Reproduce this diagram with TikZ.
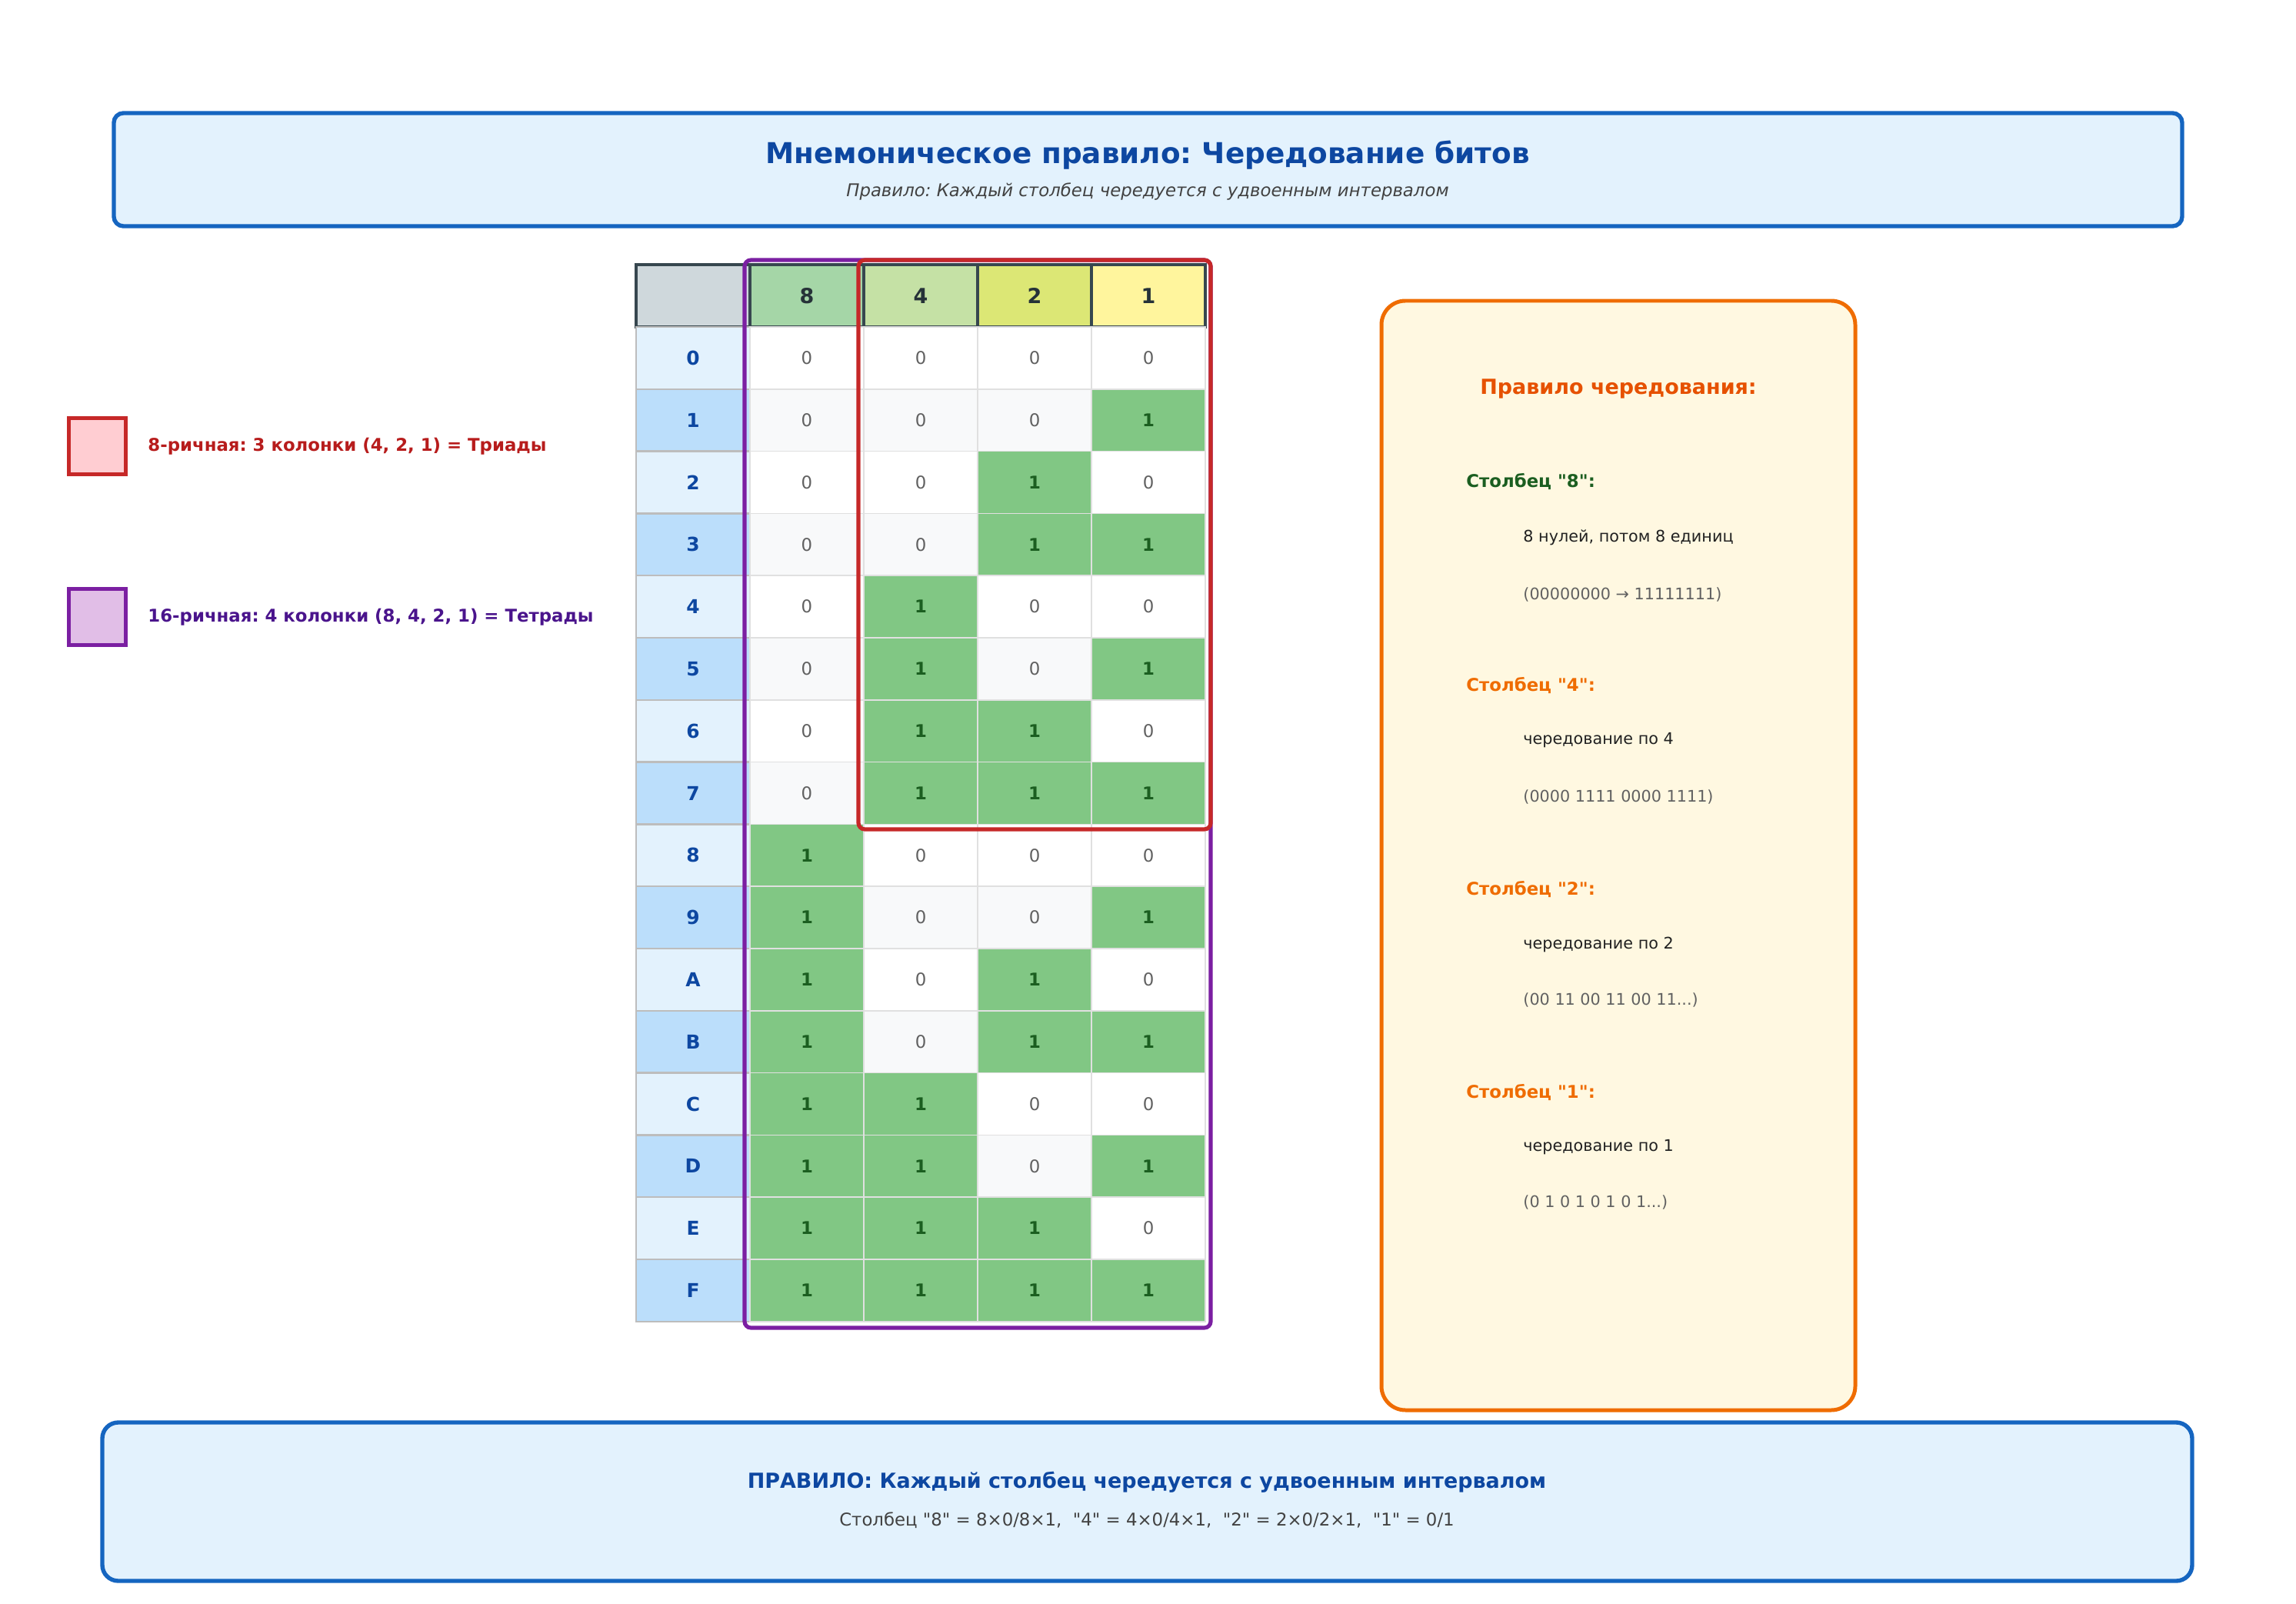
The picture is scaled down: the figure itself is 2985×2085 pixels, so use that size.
\documentclass[tikz,border=0pt]{standalone}
\usepackage{fontspec}
\setmainfont{DejaVu Sans}[Ligatures=TeXOff]
\frenchspacing
\definecolor{titleblue}{HTML}{0D47A1}
\definecolor{boxblue}{HTML}{1565C0}
\definecolor{boxfill}{HTML}{E3F2FD}
\definecolor{labfillB}{HTML}{BBDEFB}
\definecolor{labline}{HTML}{BDBDBD}
\definecolor{headline}{HTML}{37474F}
\definecolor{headtext}{HTML}{263238}
\definecolor{headcorner}{HTML}{CFD8DC}
\definecolor{headA}{HTML}{A5D6A7}
\definecolor{headB}{HTML}{C5E1A5}
\definecolor{headC}{HTML}{DCE775}
\definecolor{headD}{HTML}{FFF59D}
\definecolor{onefill}{HTML}{81C784}
\definecolor{onetext}{HTML}{1B5E20}
\definecolor{zerotext}{HTML}{616161}
\definecolor{zerofill}{HTML}{F8F9FA}
\definecolor{cellline}{HTML}{E0E0E0}
\definecolor{octred}{HTML}{C62828}
\definecolor{octfill}{HTML}{FFCDD2}
\definecolor{octtext}{HTML}{B71C1C}
\definecolor{hexpurple}{HTML}{7B1FA2}
\definecolor{hexfill}{HTML}{E1BEE7}
\definecolor{hextext}{HTML}{4A148C}
\definecolor{ruleorange}{HTML}{EF6C00}
\definecolor{rulefill}{HTML}{FFF8E1}
\definecolor{ruletitle}{HTML}{E65100}
\definecolor{darktext}{HTML}{212121}
\definecolor{subgray}{HTML}{424242}

\begin{document}
\begin{tikzpicture}[x=0.016933cm, y=-0.016933cm,
  cell/.style={draw=cellline, line width=0.7pt, minimum width=2.506cm, minimum height=1.368cm, inner sep=0pt, font=\fontsize{11}{13}\selectfont},
  bit1/.style={cell, fill=onefill, text=onetext, font=\bfseries\fontsize{11}{13}\selectfont},
  bit0/.style={cell, fill=white, text=zerotext},
  bit0s/.style={cell, fill=zerofill, text=zerotext},
  lab/.style={cell, draw=labline, line width=1.2pt, text=titleblue, font=\bfseries\fontsize{12}{14}\selectfont},
  labA/.style={lab, fill=boxfill},
  labB/.style={lab, fill=labfillB},
  head/.style={cell, draw=headline, line width=1.6pt, text=headtext, font=\bfseries\fontsize{13}{15}\selectfont},
  legendtext/.style={anchor=west, inner sep=0pt, font=\bfseries\fontsize{11}{13}\selectfont},
  rulehead/.style={anchor=west, inner sep=0pt, font=\bfseries\fontsize{11}{13}\selectfont},
  ruleline/.style={anchor=west, inner sep=0pt, text=darktext, font=\fontsize{10}{12}\selectfont},
  rulegray/.style={anchor=west, inner sep=0pt, text=zerotext, font=\fontsize{10}{12}\selectfont}]
\useasboundingbox (0,0) rectangle (2985,2085);
\draw[line width=2.6pt, draw=boxblue, fill=boxfill, rounded corners=6pt] (148,147) rectangle (2837,294);
\node[text=titleblue, font=\bfseries\fontsize{18}{22}\selectfont] (title) at (1492,202) {Мнемоническое правило: Чередование битов};
\node[text=subgray, font=\itshape\fontsize{11}{13}\selectfont] (subtitle) at (1492,249) {Правило: Каждый столбец чередуется с удвоенным интервалом};
\node[draw=octred, fill=octfill, line width=2.5pt, minimum width=1.25cm, minimum height=1.25cm, inner sep=0pt] (oct) at (126.5,580) {};
\node[legendtext, text=octtext] (octlab) at (192,580) {8-ричная: 3 колонки (4, 2, 1) = Триады};
\node[draw=hexpurple, fill=hexfill, line width=2.5pt, minimum width=1.25cm, minimum height=1.25cm, inner sep=0pt] (hex) at (126.5,802) {};
\node[legendtext, text=hextext] (hexlab) at (192,802) {16-ричная: 4 колонки (8, 4, 2, 1) = Тетрады};
\node[head, fill=headcorner] (h0) at (901,384.5) {};
\node[head, fill=headA] (h8) at (1049,384.5) {8};
\node[head, fill=headB] (h4) at (1197,384.5) {4};
\node[head, fill=headC] (h2) at (1345,384.5) {2};
\node[head, fill=headD] (h1) at (1493,384.5) {1};
\node[labA] (l0) at (901,465.4) {0};
\node[labB] (l1) at (901,546.2) {1};
\node[labA] (l2) at (901,627.0) {2};
\node[labB] (l3) at (901,707.8) {3};
\node[labA] (l4) at (901,788.6) {4};
\node[labB] (l5) at (901,869.4) {5};
\node[labA] (l6) at (901,950.2) {6};
\node[labB] (l7) at (901,1031.0) {7};
\node[labA] (l8) at (901,1111.8) {8};
\node[labB] (l9) at (901,1192.6) {9};
\node[labA] (l10) at (901,1273.4) {A};
\node[labB] (l11) at (901,1354.2) {B};
\node[labA] (l12) at (901,1435.0) {C};
\node[labB] (l13) at (901,1515.8) {D};
\node[labA] (l14) at (901,1596.6) {E};
\node[labB] (l15) at (901,1677.4) {F};
\node[bit0] (r0b8) at (1049,465.4) {0};
\node[bit0] (r0b4) at (1197,465.4) {0};
\node[bit0] (r0b2) at (1345,465.4) {0};
\node[bit0] (r0b1) at (1493,465.4) {0};
\node[bit0s] (r1b8) at (1049,546.2) {0};
\node[bit0s] (r1b4) at (1197,546.2) {0};
\node[bit0s] (r1b2) at (1345,546.2) {0};
\node[bit1] (r1b1) at (1493,546.2) {1};
\node[bit0] (r2b8) at (1049,627.0) {0};
\node[bit0] (r2b4) at (1197,627.0) {0};
\node[bit1] (r2b2) at (1345,627.0) {1};
\node[bit0] (r2b1) at (1493,627.0) {0};
\node[bit0s] (r3b8) at (1049,707.8) {0};
\node[bit0s] (r3b4) at (1197,707.8) {0};
\node[bit1] (r3b2) at (1345,707.8) {1};
\node[bit1] (r3b1) at (1493,707.8) {1};
\node[bit0] (r4b8) at (1049,788.6) {0};
\node[bit1] (r4b4) at (1197,788.6) {1};
\node[bit0] (r4b2) at (1345,788.6) {0};
\node[bit0] (r4b1) at (1493,788.6) {0};
\node[bit0s] (r5b8) at (1049,869.4) {0};
\node[bit1] (r5b4) at (1197,869.4) {1};
\node[bit0s] (r5b2) at (1345,869.4) {0};
\node[bit1] (r5b1) at (1493,869.4) {1};
\node[bit0] (r6b8) at (1049,950.2) {0};
\node[bit1] (r6b4) at (1197,950.2) {1};
\node[bit1] (r6b2) at (1345,950.2) {1};
\node[bit0] (r6b1) at (1493,950.2) {0};
\node[bit0s] (r7b8) at (1049,1031.0) {0};
\node[bit1] (r7b4) at (1197,1031.0) {1};
\node[bit1] (r7b2) at (1345,1031.0) {1};
\node[bit1] (r7b1) at (1493,1031.0) {1};
\node[bit1] (r8b8) at (1049,1111.8) {1};
\node[bit0] (r8b4) at (1197,1111.8) {0};
\node[bit0] (r8b2) at (1345,1111.8) {0};
\node[bit0] (r8b1) at (1493,1111.8) {0};
\node[bit1] (r9b8) at (1049,1192.6) {1};
\node[bit0s] (r9b4) at (1197,1192.6) {0};
\node[bit0s] (r9b2) at (1345,1192.6) {0};
\node[bit1] (r9b1) at (1493,1192.6) {1};
\node[bit1] (r10b8) at (1049,1273.4) {1};
\node[bit0] (r10b4) at (1197,1273.4) {0};
\node[bit1] (r10b2) at (1345,1273.4) {1};
\node[bit0] (r10b1) at (1493,1273.4) {0};
\node[bit1] (r11b8) at (1049,1354.2) {1};
\node[bit0s] (r11b4) at (1197,1354.2) {0};
\node[bit1] (r11b2) at (1345,1354.2) {1};
\node[bit1] (r11b1) at (1493,1354.2) {1};
\node[bit1] (r12b8) at (1049,1435.0) {1};
\node[bit1] (r12b4) at (1197,1435.0) {1};
\node[bit0] (r12b2) at (1345,1435.0) {0};
\node[bit0] (r12b1) at (1493,1435.0) {0};
\node[bit1] (r13b8) at (1049,1515.8) {1};
\node[bit1] (r13b4) at (1197,1515.8) {1};
\node[bit0s] (r13b2) at (1345,1515.8) {0};
\node[bit1] (r13b1) at (1493,1515.8) {1};
\node[bit1] (r14b8) at (1049,1596.6) {1};
\node[bit1] (r14b4) at (1197,1596.6) {1};
\node[bit1] (r14b2) at (1345,1596.6) {1};
\node[bit0] (r14b1) at (1493,1596.6) {0};
\node[bit1] (r15b8) at (1049,1677.4) {1};
\node[bit1] (r15b4) at (1197,1677.4) {1};
\node[bit1] (r15b2) at (1345,1677.4) {1};
\node[bit1] (r15b1) at (1493,1677.4) {1};
\draw[line width=2.5pt, draw=hexpurple, rounded corners=4pt] (968,338) rectangle (1574,1726);
\draw[line width=2.5pt, draw=octred, rounded corners=4pt] (1116,338) rectangle (1574,1078);
\draw[line width=2.4pt, draw=ruleorange, fill=rulefill, rounded corners=15pt] (1796,391) rectangle (2412,1833);
\node[text=ruletitle, font=\bfseries\fontsize{13}{15}\selectfont] (ruletitle) at (2104,505) {Правило чередования:};
\node[rulehead, text=onetext] (s8) at (1906,626) {Столбец "8":};
\node[ruleline] (s8a) at (1980,699) {8 нулей, потом 8 единиц};
\node[rulegray] (s8b) at (1980,773) {(00000000 → 11111111)};
\node[rulehead, text=ruleorange] (s4) at (1906,891) {Столбец "4":};
\node[ruleline] (s4a) at (1980,962) {чередование по 4};
\node[rulegray] (s4b) at (1980,1036) {(0000 1111 0000 1111)};
\node[rulehead, text=ruleorange] (s2) at (1906,1156) {Столбец "2":};
\node[ruleline] (s2a) at (1980,1228) {чередование по 2};
\node[rulegray] (s2b) at (1980,1300) {(00 11 00 11 00 11...)};
\node[rulehead, text=ruleorange] (s1) at (1906,1420) {Столбец "1":};
\node[ruleline] (s1a) at (1980,1491) {чередование по 1};
\node[rulegray] (s1b) at (1980,1563) {(0 1 0 1 0 1 0 1...)};
\draw[line width=2.6pt, draw=boxblue, fill=boxfill, rounded corners=10pt] (133,1849) rectangle (2850,2055);
\node[text=titleblue, font=\bfseries\fontsize{13}{15}\selectfont] (rule) at (1491,1927) {ПРАВИЛО: Каждый столбец чередуется с удвоенным интервалом};
\node[text=subgray, font=\fontsize{11}{13}\selectfont] (formula) at (1491,1976) {Столбец "8" = 8×0/8×1,\ \ "4" = 4×0/4×1,\ \ "2" = 2×0/2×1,\ \ "1" = 0/1};
\end{tikzpicture}
\end{document}
